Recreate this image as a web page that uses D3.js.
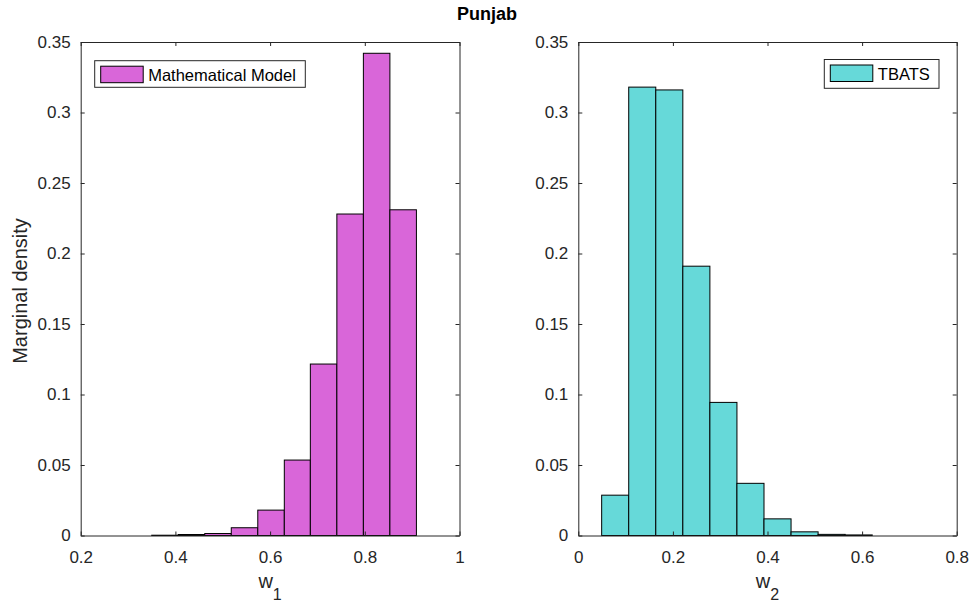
<!DOCTYPE html>
<html>
<head>
<meta charset="utf-8">
<script src="https://cdn.jsdelivr.net/npm/d3@7"></script>
<style>
  body { margin: 0; background: #fff; }
  svg { font-family: "Liberation Sans", Arial, sans-serif; }
  .axis path, .axis line { stroke: #262626; }
  .axis text { fill: #262626; font-size: 17px; }
</style>
</head>
<body>
<div id="chart"></div>
<script>
// bin edges and densities
const w1Edges = [0.350, 0.406, 0.462, 0.518, 0.574, 0.630, 0.685, 0.741, 0.797, 0.853, 0.909];
const w1Density = [0.0002, 0.0007, 0.0014, 0.0055, 0.018, 0.0535, 0.1216, 0.228, 0.342, 0.231];
const w2Edges = [0.0494, 0.1066, 0.1638, 0.2210, 0.2782, 0.3354, 0.3926, 0.4498, 0.5070, 0.5642, 0.6214];
const w2Density = [0.0286, 0.318, 0.316, 0.191, 0.0944, 0.037, 0.0118, 0.0026, 0.0008, 0.0004];
const yTicks = [0, 0.05, 0.1, 0.15, 0.2, 0.25, 0.3, 0.35];
const w1Ticks = [0.2, 0.4, 0.6, 0.8, 1];
const w2Ticks = [0, 0.2, 0.4, 0.6, 0.8];

var width = 974, height = 605;
var svg = d3.select('#chart').append('svg')
  .attr('width', width)
  .attr('height', height);

svg.append('text')
  .attr('x', 487).attr('y', 20)
  .attr('text-anchor', 'middle')
  .style('font-weight', 'bold')
  .style('font-size', '18px')
  .attr('fill', '#000')
  .text('Punjab');

let addPanel = (opts) => {
  var left = opts.left, right = opts.right, top = 42, bottom = 535.5;

  var xScale = d3.scaleLinear().domain(opts.xDomain).range([left, right]);
  var yScale = d3.scaleLinear().domain([0, 0.35]).range([bottom, top]);

  var g = svg.append('g');

  // bars
  var bins = opts.values.map((v, i) => ({x0: opts.edges[i], x1: opts.edges[i + 1], y: v}));
  g.append('g').selectAll('rect')
    .data(bins)
    .join('rect')
    .attr('x', d => xScale(d.x0))
    .attr('y', d => yScale(d.y))
    .attr('width', d => xScale(d.x1) - xScale(d.x0))
    .attr('height', d => yScale(0) - yScale(d.y))
    .attr('fill', opts.color)
    .attr('stroke', '#000')
    .attr('stroke-width', 1);

  // axes, ticks pointing inward like matlab
  g.append('g').attr('class', 'axis')
    .attr('transform', `translate(0,${bottom})`)
    .call(d3.axisBottom(xScale).tickValues(opts.xTicks).tickFormat(d3.format('~g'))
      .tickSizeInner(-4).tickSizeOuter(0).tickPadding(15));
  g.append('g').attr('class', 'axis')
    .attr('transform', `translate(0,${top})`)
    .call(d3.axisTop(xScale).tickValues(opts.xTicks).tickFormat('')
      .tickSizeInner(-4).tickSizeOuter(0));
  g.append('g').attr('class', 'axis')
    .attr('transform', `translate(${left},0)`)
    .call(d3.axisLeft(yScale).tickValues(yTicks).tickFormat(d3.format('~g'))
      .tickSizeInner(-4).tickSizeOuter(0).tickPadding(10));
  g.append('g').attr('class', 'axis')
    .attr('transform', `translate(${right},0)`)
    .call(d3.axisRight(yScale).tickValues(yTicks).tickFormat('')
      .tickSizeInner(-4).tickSizeOuter(0));

  g.selectAll('.axis text').attr('fill', '#262626');

  // x label with subscript
  var xl = g.append('text')
    .attr('x', (left + right) / 2).attr('y', 588)
    .attr('text-anchor', 'middle')
    .attr('fill', '#262626')
    .style('font-size', '20px');
  xl.append('tspan').text('w');
  xl.append('tspan').attr('dy', 12).style('font-size', '16px').text(opts.sub);

  // legend
  var lg = g.append('g');
  lg.append('rect')
    .attr('x', opts.legend[0]).attr('y', opts.legend[1])
    .attr('width', opts.legend[2]).attr('height', opts.legend[3])
    .attr('fill', '#fff').attr('stroke', '#262626').attr('stroke-width', 1);
  lg.append('rect')
    .attr('x', opts.legend[0] + 6).attr('y', opts.legend[1] + 5.5)
    .attr('width', 42.5).attr('height', 16.5)
    .attr('fill', opts.color).attr('stroke', '#000').attr('stroke-width', 1);
  lg.append('text')
    .attr('x', opts.legend[0] + 53.5).attr('y', opts.legend[1] + 20)
    .attr('fill', '#000')
    .style('font-size', '16.5px')
    .text(opts.name);
};

addPanel({
  left: 80.7, right: 459.5,
  xDomain: [0.2, 1], xTicks: w1Ticks,
  edges: w1Edges, values: w1Density,
  color: '#d966d9', name: 'Mathematical Model', sub: '1',
  legend: [94.7, 60.7, 210.6, 26.6]
});

addPanel({
  left: 578.3, right: 956.7,
  xDomain: [0, 0.8], xTicks: w2Ticks,
  edges: w2Edges, values: w2Density,
  color: '#66d9d9', name: 'TBATS', sub: '2',
  legend: [824.3, 59.5, 114.7, 28.8]
});

svg.append('text')
  .attr('transform', 'translate(27,291) rotate(-90)')
  .attr('text-anchor', 'middle')
  .attr('fill', '#262626')
  .style('font-size', '20px')
  .text('Marginal density');
</script>
</body>
</html>
